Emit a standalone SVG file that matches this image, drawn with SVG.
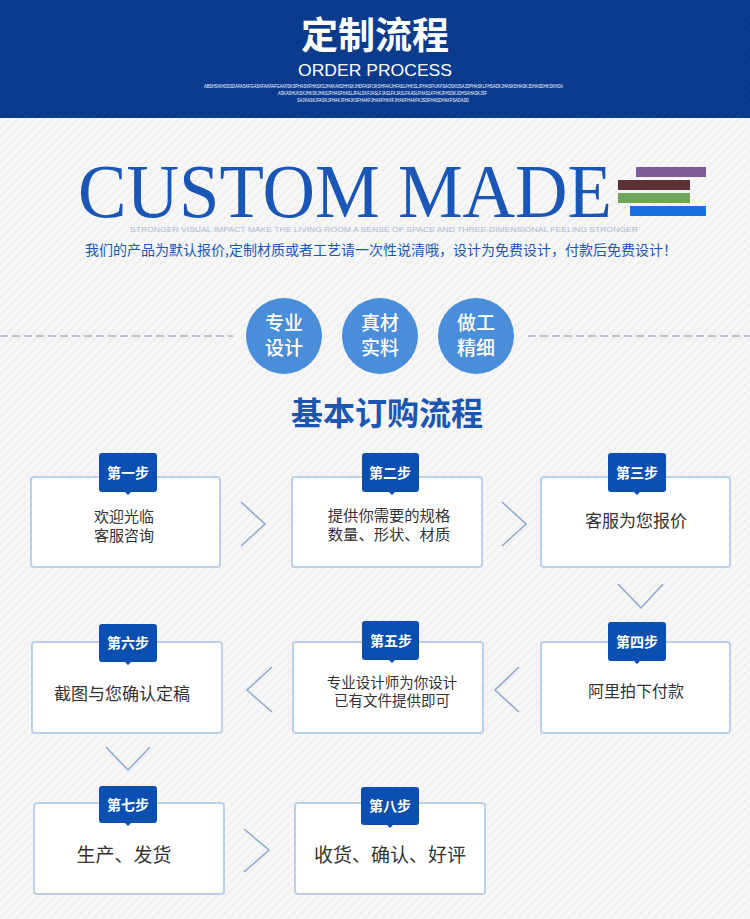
<svg xmlns="http://www.w3.org/2000/svg" width="750" height="919" viewBox="0 0 750 919">
<defs>
<pattern id="bgp" width="6" height="6" patternUnits="userSpaceOnUse" patternTransform="rotate(45)">
<rect width="6" height="6" fill="#f7f7f7"/>
<rect width="2" height="6" fill="#f0f0f0"/>
</pattern>
<pattern id="hdp" width="6" height="6" patternUnits="userSpaceOnUse" patternTransform="rotate(45)">
<rect width="6" height="6" fill="#0c3c8e"/>
<rect width="2" height="6" fill="#0a388a"/>
</pattern>
<style>
.cjk{font-family:"Noto Sans CJK SC","Noto Sans",sans-serif}
.box{fill:#ffffff;stroke:#bcd0ea;stroke-width:2}
.lab{fill:#0b4fb0}
.labt{font-family:"Noto Sans CJK SC",sans-serif;font-size:14px;font-weight:bold;fill:#ffffff;text-anchor:middle}
.bt{font-family:"Noto Sans CJK SC",sans-serif;fill:#333333;text-anchor:middle}
.chev{fill:none;stroke:#8ca7cc;stroke-width:1.5}
.circ{fill:#4a8dd9}
.ct{font-family:"Noto Sans CJK SC",sans-serif;font-size:19px;font-weight:500;fill:#ffffff;text-anchor:middle}
.tiny{font-family:"Liberation Sans",sans-serif;font-size:4.5px;fill:#ffffff}
</style>
</defs>
<rect width="750" height="919" fill="url(#bgp)"/>
<g id="header">
<rect width="750" height="118" fill="url(#hdp)"/>
<text x="375" y="49" class="cjk" font-size="37" font-weight="bold" fill="#ffffff" text-anchor="middle">定制流程</text>
<text x="375" y="76" font-family="Liberation Sans,sans-serif" font-size="17" fill="#ffffff" text-anchor="middle" textLength="154" lengthAdjust="spacingAndGlyphs">ORDER PROCESS</text>
<text x="204" y="88" class="tiny" textLength="359" lengthAdjust="spacingAndGlyphs">ABSHSIKHDSSDAFASKFGASKFAKFAFGAKFSKSPHASKFHKSKSJHAKAKDHHSKJHDFASFIJKSHFAKJHFASLFHKSLJFHASFIUKFSAOSKDSAJDPHASKLFHSADKJHASKDHASKJDHASDHKSKHDA</text>
<text x="278" y="95" class="tiny" textLength="209" lengthAdjust="spacingAndGlyphs">ASKASHUKSKJHKSKJHASJFHASFHASLJFALSKFJASLFJASLFKJASLFKASLFHASLKFHKJFHSSKJDHSAHASKJSF</text>
<text x="297" y="102" class="tiny" textLength="172" lengthAdjust="spacingAndGlyphs">SAJKASKJFASKJFHAKJFHAJKSFHAKFJHAKFHKKFJHAKFHAKFKJSDFHASDHAKFSADASD</text>
</g>
<g id="custom-made">
<text font-family="Liberation Serif,serif" fill="#1a56b5"><tspan x="78" y="217" font-size="76" textLength="534" lengthAdjust="spacingAndGlyphs">CUSTOM MADE</tspan><tspan x="130" y="232" font-family="Liberation Sans,sans-serif" font-size="7" fill="#a9bad5" textLength="508" lengthAdjust="spacingAndGlyphs">STRONGER VISUAL IMPACT MAKE THE LIVING ROOM A SENSE OF SPACE AND THREE-DIMENSIONAL FEELING STRONGER</tspan></text>
<rect x="636" y="167" width="70" height="10" fill="#7f5a98"/>
<rect x="618" y="180" width="72" height="10" fill="#5d3035"/>
<rect x="618" y="193" width="72" height="10" fill="#71a65a"/>
<rect x="630" y="206" width="76" height="10" fill="#1a6fe0"/>
<text x="85" y="255" class="cjk" font-size="14" fill="#1a56b5" textLength="592" lengthAdjust="spacingAndGlyphs">我们的产品为默认报价,定制材质或者工艺请一次性说清哦，设计为免费设计，付款后免费设计！</text>
</g>
<g id="features">
<line x1="0" y1="336" x2="233" y2="336" stroke="#8a8eb2" stroke-width="1.2" stroke-dasharray="8,4"/>
<line x1="528" y1="336" x2="750" y2="336" stroke="#8a8eb2" stroke-width="1.2" stroke-dasharray="8,4"/>
<g id="f1"><circle cx="284" cy="336" r="38" class="circ"/><text class="ct"><tspan x="284" y="330">专业</tspan><tspan x="284" y="355">设计</tspan></text></g>
<g id="f2"><circle cx="380" cy="336" r="38" class="circ"/><text class="ct"><tspan x="380" y="330">真材</tspan><tspan x="380" y="355">实料</tspan></text></g>
<g id="f3"><circle cx="476" cy="336" r="38" class="circ"/><text class="ct"><tspan x="476" y="330">做工</tspan><tspan x="476" y="355">精细</tspan></text></g>
</g>
<text x="387" y="425" class="cjk" font-size="32" font-weight="bold" fill="#1c56b0" text-anchor="middle">基本订购流程</text>
<g id="connectors">
<polyline class="chev" points="241,502 265,524 241,546"/>
<polyline class="chev" points="502,502 526,524 502,546"/>
<polyline class="chev" points="618,584 641,608 663,584"/>
<polyline class="chev" points="519,667 495,690 519,712"/>
<polyline class="chev" points="272,667 247,690 272,712"/>
<polyline class="chev" points="106,747 128,770 150,747"/>
<polyline class="chev" points="244,829 269,850 244,872"/>
</g>
<g id="step1">
<rect x="31" y="477" width="189" height="90" rx="3" class="box"/>
<path d="M102,453 h52 a3,3 0 0 1 3,3 v33 a3,3 0 0 1 -3,3 h-23 l-3,3 l-3,-3 h-23 a3,3 0 0 1 -3,-3 v-33 a3,3 0 0 1 3,-3z" class="lab"/>
<text x="128" y="478" class="labt">第一步</text>
<text class="bt" font-size="15"><tspan x="124" y="522">欢迎光临</tspan><tspan x="124" y="541">客服咨询</tspan></text>
</g>
<g id="step2">
<rect x="292" y="477" width="190" height="90" rx="3" class="box"/>
<path d="M365,453 h51 a3,3 0 0 1 3,3 v33 a3,3 0 0 1 -3,3 h-21 l-3,3 l-3,-3 h-24 a3,3 0 0 1 -3,-3 v-33 a3,3 0 0 1 3,-3z" class="lab"/>
<text x="390" y="478" class="labt">第二步</text>
<text class="bt" font-size="15.3"><tspan x="389" y="521">提供你需要的规格</tspan><tspan x="389" y="540">数量、形状、材质</tspan></text>
</g>
<g id="step3">
<rect x="541" y="477" width="189" height="90" rx="3" class="box"/>
<path d="M611,453 h52 a3,3 0 0 1 3,3 v33 a3,3 0 0 1 -3,3 h-23 l-3,3 l-3,-3 h-23 a3,3 0 0 1 -3,-3 v-33 a3,3 0 0 1 3,-3z" class="lab"/>
<text x="637" y="478" class="labt">第三步</text>
<text x="636" y="527" class="bt" font-size="17">客服为您报价</text>
</g>
<g id="step4">
<rect x="541" y="642" width="189" height="91" rx="3" class="box"/>
<path d="M611,622 h52 a3,3 0 0 1 3,3 v33 a3,3 0 0 1 -3,3 h-23 l-3,3 l-3,-3 h-23 a3,3 0 0 1 -3,-3 v-33 a3,3 0 0 1 3,-3z" class="lab"/>
<text x="637" y="647" class="labt">第四步</text>
<text x="636" y="697" class="bt" font-size="16">阿里拍下付款</text>
</g>
<g id="step5">
<rect x="293" y="642" width="190" height="91" rx="3" class="box"/>
<path d="M365,621 h51 a3,3 0 0 1 3,3 v33 a3,3 0 0 1 -3,3 h-21 l-3,3 l-3,-3 h-24 a3,3 0 0 1 -3,-3 v-33 a3,3 0 0 1 3,-3z" class="lab"/>
<text x="391" y="646" class="labt">第五步</text>
<text class="bt" font-size="14.5"><tspan x="392" y="688">专业设计师为你设计</tspan><tspan x="392" y="706">已有文件提供即可</tspan></text>
</g>
<g id="step6">
<rect x="32" y="642" width="190" height="91" rx="3" class="box"/>
<path d="M102,624 h52 a3,3 0 0 1 3,3 v32 a3,3 0 0 1 -3,3 h-23 l-3,3 l-3,-3 h-23 a3,3 0 0 1 -3,-3 v-32 a3,3 0 0 1 3,-3z" class="lab"/>
<text x="128" y="648" class="labt">第六步</text>
<text x="122" y="700" class="bt" font-size="17">截图与您确认定稿</text>
</g>
<g id="step7">
<rect x="34" y="803" width="190" height="91" rx="3" class="box"/>
<path d="M102,786 h52 a3,3 0 0 1 3,3 v31 a3,3 0 0 1 -3,3 h-23 l-3,3 l-3,-3 h-23 a3,3 0 0 1 -3,-3 v-31 a3,3 0 0 1 3,-3z" class="lab"/>
<text x="128" y="810" class="labt">第七步</text>
<text x="124" y="862" class="bt" font-size="19">生产、发货</text>
</g>
<g id="step8">
<rect x="295" y="803" width="190" height="91" rx="3" class="box"/>
<path d="M364,787 h52 a3,3 0 0 1 3,3 v32 a3,3 0 0 1 -3,3 h-23 l-3,3 l-3,-3 h-23 a3,3 0 0 1 -3,-3 v-32 a3,3 0 0 1 3,-3z" class="lab"/>
<text x="390" y="811" class="labt">第八步</text>
<text x="390" y="862" class="bt" font-size="19">收货、确认、好评</text>
</g>
</svg>
